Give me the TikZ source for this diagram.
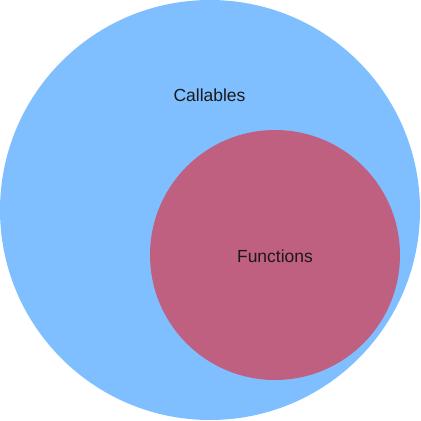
\documentclass[tikz,border=0pt]{standalone}
\usepackage{fontspec}
\setmainfont{Liberation Sans}
\definecolor{callblue}{RGB}{128,191,255}
\definecolor{funcred}{RGB}{192,96,128}
\begin{document}
\begin{tikzpicture}[x=1pt,y=-1pt]
      % Define styles for nodes
      \tikzstyle{set} = [circle, inner sep=0pt, outer sep=0pt]
      \tikzstyle{setlabel} = [font=\fontsize{17.5}{20}\selectfont, text=black!90]

      \useasboundingbox (0,0) rectangle (421,421);

      % Sets
      \node[set, fill=callblue, minimum size=420pt] (callables) at (210,210) {};
      \node[set, fill=funcred, minimum size=250pt] (functions) at (275,255) {};

      % Labels
      \node[setlabel] (callableslabel) at (209.5,95.5) {Callables};
      \node[setlabel] (functionslabel) at (275,256) {Functions};
    \end{tikzpicture}
\end{document}
